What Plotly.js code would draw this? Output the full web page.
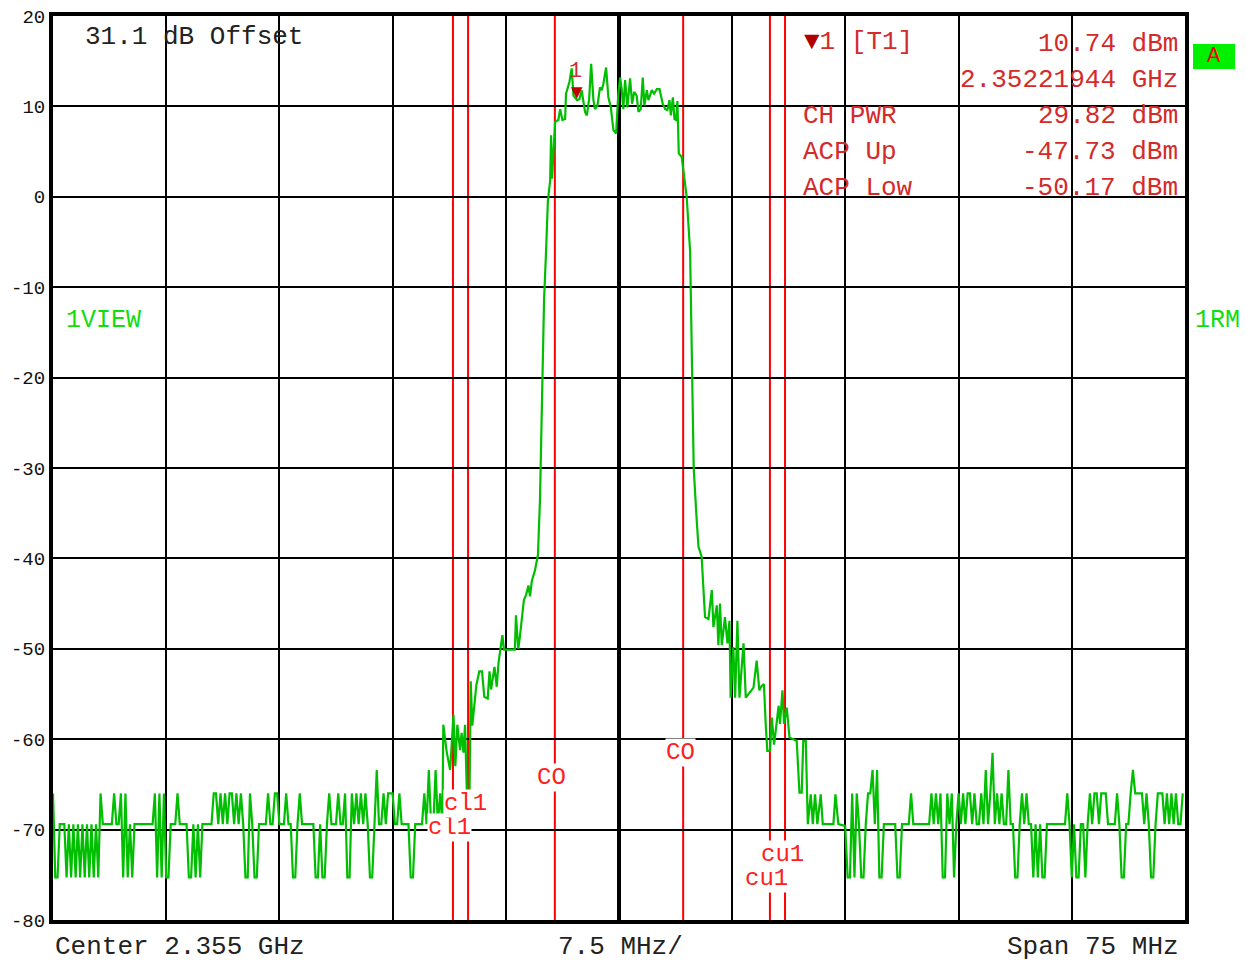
<!DOCTYPE html>
<html>
<head>
<meta charset="utf-8">
<script src="https://cdn.plot.ly/plotly-3.0.1.min.js"></script>
<style>html,body{margin:0;padding:0;background:#fff;}#chart{width:1246px;height:963px;}</style>
</head>
<body>
<div id="chart"></div>
<script>
// ---- Sweep settings ----
const centerGHz = 2.355;
const spanGHz = 0.075;
const sweepPoints = 501;
const startGHz = centerGHz - spanGHz / 2;

// ---- Trace 1 (dBm) : left noise floor, sweep points 0..171 ----
const noiseLeftDbm = [
 -66.0,-75.3,-75.3,-69.4,-69.4,-69.4,-75.3,-69.4,-75.3,-69.4,
 -75.3,-69.4,-75.3,-69.4,-75.3,-69.4,-75.3,-69.4,-75.3,-69.4,
 -75.3,-66.0,-69.4,-69.4,-69.4,-69.4,-69.4,-66.0,-69.4,-69.4,
 -66.0,-75.3,-66.0,-75.3,-69.4,-75.3,-69.4,-69.4,-69.4,-69.4,
 -69.4,-69.4,-69.4,-69.4,-69.4,-66.0,-75.3,-66.0,-75.3,-66.0,
 -75.3,-75.3,-69.4,-69.4,-69.4,-66.0,-69.4,-69.4,-69.4,-69.4,
 -75.3,-75.3,-69.4,-75.3,-69.4,-75.3,-69.4,-69.4,-69.4,-69.4,
 -69.4,-66.0,-66.0,-69.4,-66.0,-69.4,-66.0,-69.4,-66.0,-66.0,
 -69.4,-66.0,-69.4,-66.0,-69.4,-75.3,-75.3,-66.0,-69.4,-75.3,
 -75.3,-69.4,-69.4,-69.4,-69.4,-66.0,-69.4,-69.4,-66.0,-66.0,
 -69.4,-69.4,-69.4,-66.0,-69.4,-69.4,-75.3,-75.3,-69.4,-66.0,
 -69.4,-69.4,-69.4,-69.4,-69.4,-69.4,-75.3,-75.3,-69.4,-75.3,
 -75.3,-69.4,-66.0,-69.4,-69.4,-69.4,-66.0,-69.4,-69.4,-66.0,
 -75.3,-75.3,-66.0,-69.4,-66.0,-69.4,-66.0,-69.4,-66.0,-69.4,
 -75.3,-75.3,-69.4,-63.4,-69.4,-69.4,-66.0,-69.4,-66.0,-66.0,
 -66.0,-69.4,-69.4,-66.0,-69.4,-69.4,-69.4,-69.4,-75.3,-75.3,
 -69.4,-69.4,-69.4,-69.4,-66.0,-69.4,-63.4,-69.4,-69.4,-63.4,
 -69.4,-66.0
];

// ---- Trace 1: channel and skirts (sweep point, dBm) ----
const skirtPoint = [
 172.0,172.4,173.9,175.4,176.9,177.7,178.6,179.8,180.5,181.3,
 182.0,182.8,184.0,184.5,185.2,187.0,188.3,189.5,190.5,192.0,
 192.8,193.5,195.0,196.0,196.8,198.5,199.2,204.0,204.5,205.5,
 206.2,208.0,209.0,210.0,210.7,211.5,212.9,214.2,215.1,216.0,
 216.9,217.8,218.6,219.6,220.0,220.4,221.8,223.2,224.0,225.0,
 226.2,226.6,228.1,229.1,229.9,231.5,232.5,233.5,235.0,235.8,
 236.8,237.7,238.7,239.4,240.5,241.6,242.4,243.1,244.3,245.3,
 246.4,247.5,248.7,249.7,250.5,251.2,251.9,252.7,253.7,254.9,
 255.8,256.7,257.8,258.6,259.6,260.5,261.2,262.3,263.0,264.5,
 265.5,266.7,267.9,269.3,270.4,271.4,272.3,272.9,273.8,274.5,
 275.2,275.8,276.4,277.7,279.9,281.4,282.2,283.0,284.3,285.1,
 286.5,288.0,289.5,291.0,291.7,293.2,293.9,294.6,295.4,296.8,
 297.9,298.8,299.3,300.5,301.3,302.3,303.2,305.0,306.0,307.9,
 309.4,310.8,312.0,313.0,314.0,314.8,315.5,316.7,317.5,318.5,
 320.0,320.5,321.1,322.2,322.9,324.1,325.3,326.7,328.5,329.7,
 330.7,331.4,332.5,333.4,334.7,335.6,336.6,337.6,339.1,340.0,
 344.7,345.6,346.9,349.9
];
const skirtDbm = [
 -69.4,-58.4,-61.4,-63.4,-57.3,-63.0,-58.4,-61.2,-59.3,-61.5,
 -58.4,-66.0,-65.8,-53.6,-58.5,-54.0,-52.5,-52.5,-55.3,-55.5,
 -52.5,-54.5,-52.0,-54.2,-51.5,-48.5,-50.1,-50.1,-46.3,-50.0,
 -48.7,-44.6,-44.0,-43.0,-44.2,-42.5,-41.3,-39.6,-33.5,-22.5,
 -11.4,-5.9,-0.4,1.8,6.8,2.0,8.3,8.5,9.7,8.5,
 8.6,11.4,12.7,14.2,11.2,10.7,10.8,11.8,9.4,9.0,
 10.8,14.7,10.7,9.7,10.1,12.1,11.8,12.5,14.3,11.0,
 9.9,7.4,7.0,11.4,13.2,11.9,9.7,12.9,9.9,13.1,
 10.3,11.6,11.2,9.4,9.7,13.2,10.1,11.8,10.7,11.8,
 11.4,11.9,11.9,10.3,9.7,9.6,10.7,9.0,11.0,8.6,
 8.5,10.6,4.8,4.4,0.0,-6.0,-20.0,-30.0,-35.7,-38.7,
 -39.8,-46.5,-46.7,-43.5,-47.6,-45.2,-49.6,-45.0,-49.6,-46.5,
 -49.4,-46.9,-55.4,-49.8,-55.4,-46.9,-55.4,-49.4,-55.4,-54.8,
 -54.3,-51.3,-54.6,-54.1,-53.9,-58.3,-61.3,-61.3,-57.6,-60.6,
 -57.4,-56.3,-58.3,-54.6,-58.3,-56.5,-59.8,-60.0,-60.2,-65.9,
 -65.9,-60.2,-60.2,-69.4,-66.1,-69.4,-66.1,-69.4,-66.1,-69.4,
 -69.4,-66.1,-69.4,-69.6
];

// ---- Trace 1: right noise floor, sweep points 351..500 ----
const noiseRightFirstPoint = 351;
const noiseRightDbm = [
 -75.3,-75.3,-66.0,-75.3,-66.0,-69.4,-75.3,-75.3,-69.4,-66.0,
 -66.0,-63.4,-69.4,-63.4,-75.3,-75.3,-69.4,-69.4,-69.4,-69.4,
 -69.4,-69.4,-75.3,-75.3,-69.4,-69.4,-69.4,-69.4,-66.0,-69.4,
 -69.4,-69.4,-69.4,-69.4,-69.4,-69.4,-69.4,-66.0,-69.4,-66.0,
 -69.4,-66.0,-75.3,-75.3,-66.0,-69.4,-66.0,-75.3,-69.4,-66.0,
 -69.4,-66.0,-69.4,-66.0,-66.0,-69.4,-66.0,-69.4,-69.4,-66.0,
 -69.4,-63.4,-69.4,-66.0,-61.5,-69.4,-66.0,-69.4,-66.0,-69.4,
 -69.4,-63.4,-69.4,-69.4,-75.3,-75.3,-69.4,-66.0,-69.4,-66.0,
 -69.4,-69.4,-75.3,-69.4,-75.3,-69.4,-75.3,-75.3,-69.4,-69.4,
 -69.4,-69.4,-69.4,-69.4,-69.4,-69.4,-69.4,-66.0,-69.4,-75.3,
 -69.4,-75.3,-75.3,-69.4,-69.4,-75.3,-69.4,-66.0,-69.4,-66.0,
 -66.0,-69.4,-66.0,-66.0,-66.0,-69.4,-69.4,-69.4,-69.4,-66.0,
 -69.4,-75.3,-75.3,-69.4,-69.4,-66.0,-63.4,-66.0,-66.0,-66.0,
 -66.0,-69.4,-66.0,-69.4,-75.3,-75.3,-69.4,-66.0,-66.0,-66.0,
 -69.4,-66.0,-69.4,-66.0,-69.4,-66.0,-69.4,-69.4,-66.0
];

// ---- Channel power lines (offset from centre, MHz) ----
const lineOffsetsMHz = [-11, -10, -4.25, 4.25, 10, 11];
const lineLabels = ['cl1', 'cl1', 'CO', 'CO', 'cu1', 'cu1'];
const lineLabelDbm = [-69.8, -67.1, -64.2, -61.5, -75.4, -72.7];

// ---- Marker ----
const markerFreqGHz = 2.35221944;
const markerDbm = 10.74;

// ---- Axis ticks ----
const yTickVals = [20, 10, 0, -10, -20, -30, -40, -50, -60, -70, -80];
const yTickText = ['20', '10', '0', '-10', '-20', '-30', '-40', '-50', '-60', '-70', '-80'];

// ---- Readout texts ----
const readoutLeft = ['CH PWR', 'ACP Up', 'ACP Low'];
const readoutRight = ['29.82 dBm', '-47.73 dBm', '-50.17 dBm'];
const markerReadout = ['10.74 dBm', '2.35221944 GHz'];
const bottomTexts = ['Center 2.355 GHz', '7.5 MHz/', 'Span 75 MHz'];

// ---- build trace ----
function ptToGHz(p) { return startGHz + p * spanGHz / (sweepPoints - 1); }
const xs = [], ys = [];
noiseLeftDbm.forEach((v, i) => { xs.push(ptToGHz(i)); ys.push(v); });
skirtPoint.forEach((p, i) => { xs.push(ptToGHz(p)); ys.push(skirtDbm[i]); });
noiseRightDbm.forEach((v, i) => { xs.push(ptToGHz(noiseRightFirstPoint + i)); ys.push(v); });

const FONT = 'Liberation Mono, DejaVu Sans Mono, monospace';
const RED = '#d42a2a';
const GREEN_TXT = '#11dd11';

const traces = [{
  type: 'scatter', mode: 'lines', x: xs, y: ys,
  line: { color: 'rgb(0,190,0)', width: 2.2 }, hoverinfo: 'skip', showlegend: false
}];

const shapes = [];
shapes.push({ type: 'line', xref: 'x', yref: 'paper', x0: centerGHz, x1: centerGHz, y0: 0, y1: 1,
  line: { color: '#000', width: 4 }, layer: 'below' });
lineOffsetsMHz.forEach(o => {
  const f = centerGHz + o / 1000;
  shapes.push({ type: 'line', xref: 'x', yref: 'paper', x0: f, x1: f, y0: 0, y1: 1,
    line: { color: '#ff0000', width: 2 }, layer: 'below' });
});
shapes.push({ type: 'rect', xref: 'paper', yref: 'paper', x0: 1.0071, x1: 1.0442, y0: 0.9414, y1: 0.9690,
  fillcolor: '#00f000', line: { width: 0 } });

const ann = [];
function txt(text, x, y, xanchor, color, size) {
  ann.push({ text: text, xref: 'paper', yref: 'paper', x: x, y: y, xanchor: xanchor, yanchor: 'middle',
    showarrow: false, font: { family: FONT, size: size, color: color } });
}
txt('31.1 dB Offset', 0.0265, 0.9768, 'left', '#222', 26);
txt('<span style="color:#b00000">▼</span>1 [T1]', 0.6617, 0.9712, 'left', RED, 26);
txt(markerReadout[0], 0.9956, 0.9690, 'right', RED, 26);
txt(markerReadout[1], 0.9956, 0.9292, 'right', RED, 26);
const rowY = [0.8894, 0.8496, 0.8097];
readoutLeft.forEach((t, i) => txt(t, 0.6608, rowY[i], 'left', RED, 26));
readoutRight.forEach((t, i) => txt(t, 0.9956, rowY[i], 'right', RED, 26));
txt('1VIEW', 0.0097, 0.6637, 'left', GREEN_TXT, 25);
txt('1RM', 1.0070, 0.6637, 'left', GREEN_TXT, 25);
txt('A', 1.0256, 0.9552, 'center', '#ff0000', 22);
txt(bottomTexts[0], 0.0000, -0.0299, 'left', '#222', 26);
txt(bottomTexts[1], 0.5009, -0.0299, 'center', '#222', 26);
txt(bottomTexts[2], 0.9965, -0.0299, 'right', '#222', 26);

lineOffsetsMHz.forEach((o, i) => {
  ann.push({ text: lineLabels[i], xref: 'x', yref: 'y', x: centerGHz + o / 1000, y: lineLabelDbm[i],
    xanchor: 'center', yanchor: 'middle', xshift: -3, showarrow: false, bgcolor: 'rgba(255,255,255,1)', borderpad: 0,
    font: { family: FONT, size: 24, color: '#ff2020' } });
});
ann.push({ text: '▼', xref: 'x', yref: 'y', x: markerFreqGHz, y: markerDbm, xanchor: 'center', yanchor: 'bottom',
  yshift: -3, showarrow: false, font: { family: 'DejaVu Sans', size: 15, color: '#c00000' } });
ann.push({ text: '1', xref: 'x', yref: 'y', x: markerFreqGHz, y: markerDbm, xanchor: 'center', yanchor: 'bottom',
  xshift: -2, yshift: 14, showarrow: false, font: { family: FONT, size: 22, color: '#cc3030' } });

const layout = {
  width: 1246, height: 963,
  margin: { l: 53, r: 61, t: 16, b: 43, pad: 0 },
  paper_bgcolor: '#fff', plot_bgcolor: '#fff',
  showlegend: false,
  xaxis: {
    range: [startGHz, startGHz + spanGHz], tick0: startGHz, dtick: spanGHz / 10,
    showgrid: true, gridcolor: '#000', gridwidth: 2, zeroline: false,
    showticklabels: false, ticks: '',
    showline: true, mirror: true, linecolor: '#000', linewidth: 4
  },
  yaxis: {
    range: [-80, 20], tickvals: yTickVals, ticktext: yTickText,
    showgrid: true, gridcolor: '#000', gridwidth: 2, zeroline: false, ticks: '',
    showline: true, mirror: true, linecolor: '#000', linewidth: 4,
    tickfont: { family: FONT, size: 19, color: '#111' }
  },
  shapes: shapes,
  annotations: ann
};

Plotly.newPlot('chart', traces, layout, { displayModeBar: false, staticPlot: true });
</script>
</body>
</html>
